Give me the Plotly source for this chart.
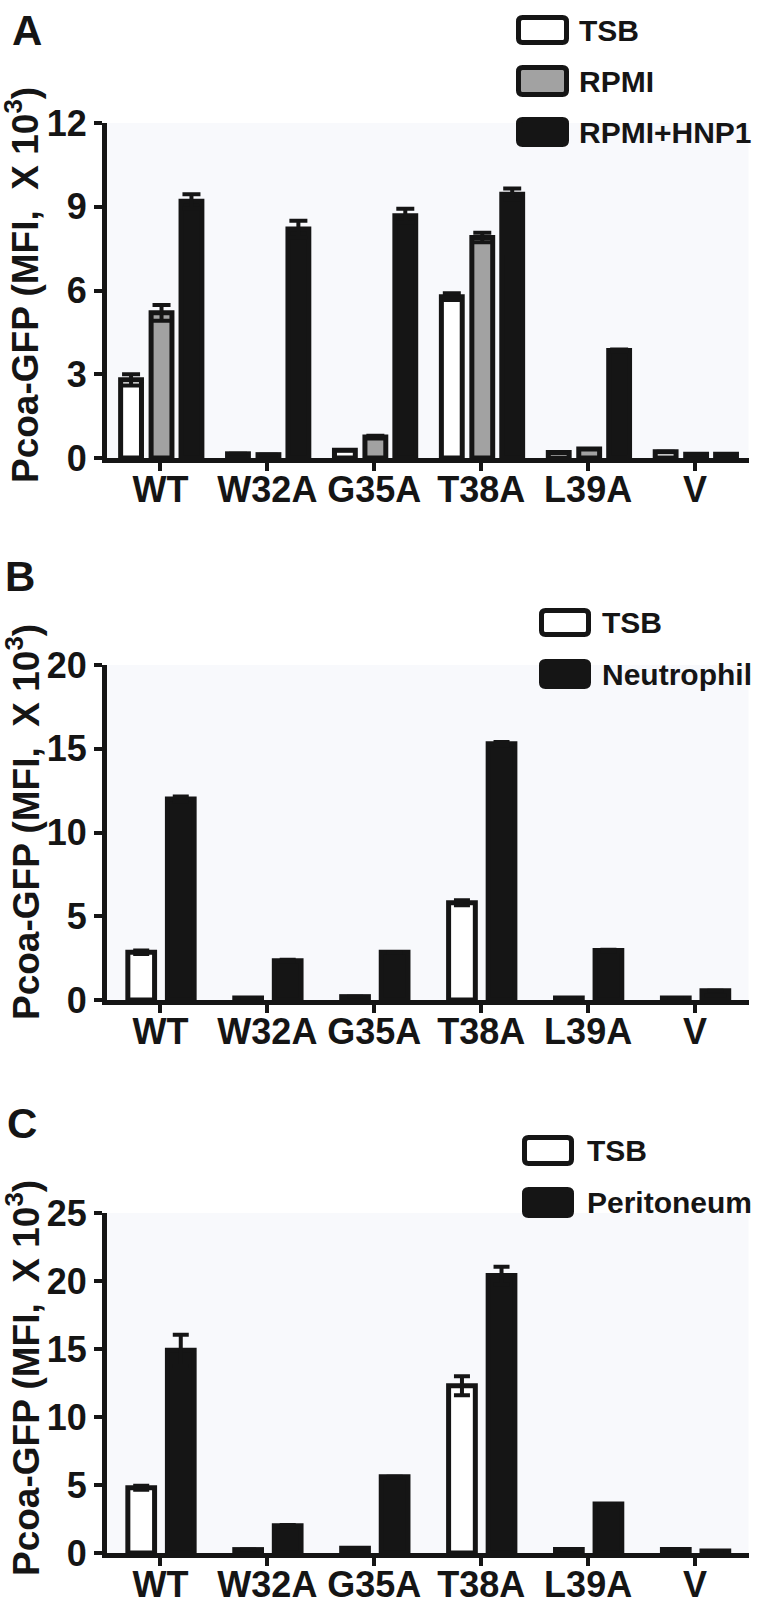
import plotly.graph_objects as go

W, H = 762, 1600

categories = ["WT", "W32A", "G35A", "T38A", "L39A", "V"]

# Panel A  (Pcoa-GFP, MFI x 10^3)
a_labels = ["TSB", "RPMI", "RPMI+HNP1"]
a_tsb = [2.80, 0.15, 0.28, 5.78, 0.20, 0.22]
a_tsb_err = [0.20, 0.0, 0.0, 0.12, 0.0, 0.0]
a_rpmi = [5.20, 0.12, 0.75, 7.90, 0.32, 0.13]
a_rpmi_err = [0.28, 0.0, 0.05, 0.17, 0.0, 0.0]
a_hnp1 = [9.20, 8.20, 8.68, 9.45, 3.85, 0.13]
a_hnp1_err = [0.25, 0.30, 0.25, 0.20, 0.04, 0.0]

# Panel B
b_labels = ["TSB", "Neutrophil"]
b_tsb = [2.85, 0.12, 0.20, 5.80, 0.12, 0.12]
b_tsb_err = [0.10, 0.0, 0.0, 0.15, 0.0, 0.0]
b_neut = [12.0, 2.35, 2.85, 15.30, 2.95, 0.55]
b_neut_err = [0.15, 0.05, 0.0, 0.10, 0.05, 0.0]

# Panel C
c_labels = ["TSB", "Peritoneum"]
c_tsb = [4.80, 0.25, 0.35, 12.30, 0.25, 0.25]
c_tsb_err = [0.15, 0.0, 0.0, 0.70, 0.0, 0.0]
c_peri = [14.90, 2.00, 5.60, 20.40, 3.60, 0.15]
c_peri_err = [1.15, 0.05, 0.0, 0.65, 0.0, 0.0]

BLACK = "#151515"
GRAY = "#a2a2a2"
WHITE = "#ffffff"
FONT = "Liberation Sans, Arial, sans-serif"


def px(x):
    return x / W


def py(y):
    return 1 - y / H


fig = go.Figure()


def add_bars(values, errs, fill, xa, ya, center, width, capw):
    fig.add_trace(go.Bar(
        x=categories, y=values, xaxis=xa, yaxis=ya,
        marker=dict(color=fill, line=dict(color=BLACK, width=5)),
        width=width, offset=center - width / 2,
        error_y=dict(type="data", array=errs, visible=True, color=BLACK,
                     thickness=4, width=capw),
        showlegend=False, hoverinfo="skip"))


# Panel A bars
wa = 0.195
add_bars(a_tsb, a_tsb_err, WHITE, "x", "y", -0.275, wa, 9)
add_bars(a_rpmi, a_rpmi_err, GRAY, "x", "y", 0.01, wa, 9)
add_bars(a_hnp1, a_hnp1_err, BLACK, "x", "y", 0.29, wa, 9)

# Panel B bars
wb = 0.25
add_bars(b_tsb, b_tsb_err, WHITE, "x2", "y2", -0.18, wb, 8)
add_bars(b_neut, b_neut_err, BLACK, "x2", "y2", 0.19, wb, 8)

# Panel C bars
add_bars(c_tsb, c_tsb_err, WHITE, "x3", "y3", -0.18, wb, 8)
add_bars(c_peri, c_peri_err, BLACK, "x3", "y3", 0.19, wb, 8)

tickfont = dict(family=FONT, size=36, color=BLACK, weight="bold")

xdom = [px(107), px(748.5)]
panels = [
    ("", "", (123, 458), 12, 3),
    ("2", "2", (665, 1000), 20, 5),
    ("3", "3", (1213, 1553), 25, 5),
]
layout_axes = {}
for xs, ys, (top, bot), ymax, dt in panels:
    layout_axes["xaxis" + xs] = dict(
        domain=xdom, anchor="y" + ys, type="category",
        categoryorder="array", categoryarray=categories,
        range=[-0.5, 5.5], showline=True, linewidth=5, linecolor=BLACK,
        ticks="outside", ticklen=8, tickwidth=4, tickcolor=BLACK,
        ticklabelstandoff=-12,
        tickfont=tickfont, showgrid=False, zeroline=False,
        automargin=False, fixedrange=True)
    layout_axes["yaxis" + ys] = dict(
        domain=[py(bot), py(top)], anchor="x" + xs,
        range=[0, ymax], tick0=0, dtick=dt,
        showline=True, linewidth=5, linecolor=BLACK,
        ticks="outside", ticklen=8, tickwidth=4, tickcolor=BLACK,
        tickfont=tickfont, showgrid=False, zeroline=False,
        automargin=False, fixedrange=True)

fig.update_layout(
    width=W, height=H,
    margin=dict(l=0, r=0, t=0, b=0),
    paper_bgcolor="white", plot_bgcolor="#f8f9fc",
    barmode="overlay",
    showlegend=False,
    **layout_axes)

annotations = []
shapes = []

# Panel letters
for txt, (cx, cy) in [("A", (27, 30)), ("B", (20, 576)), ("C", (22, 1123))]:
    annotations.append(dict(
        text=txt, x=px(cx), y=py(cy), xref="paper", yref="paper",
        xanchor="center", yanchor="middle", showarrow=False,
        font=dict(family=FONT, size=42, color=BLACK, weight="bold")))

# Y axis titles
ytitle = "Pcoa-GFP (MFI,&nbsp; X 10<sup>3</sup>)"
for cy in [285, 822, 1378]:
    annotations.append(dict(
        text=ytitle, x=px(23), y=py(cy), xref="paper", yref="paper",
        xanchor="center", yanchor="middle", showarrow=False, textangle=-90,
        font=dict(family=FONT, size=37, color=BLACK, weight="bold")))


def rounded_box(x0, y0, x1, y1, r=4):
    X0, X1 = px(x0), px(x1)
    Y0, Y1 = py(y0), py(y1)
    rx, ry = r / W, r / H
    return (f"M {X0 + rx},{Y0} L {X1 - rx},{Y0} Q {X1},{Y0} {X1},{Y0 - ry} "
            f"L {X1},{Y1 + ry} Q {X1},{Y1} {X1 - rx},{Y1} "
            f"L {X0 + rx},{Y1} Q {X0},{Y1} {X0},{Y1 + ry} "
            f"L {X0},{Y0 - ry} Q {X0},{Y0} {X0 + rx},{Y0} Z")


legend_items = [
    # label, fill, box x0, x1, y0, y1, text x
    (a_labels[0], WHITE, 516, 569, 15, 45, 577),
    (a_labels[1], GRAY, 516, 569, 65, 97, 577),
    (a_labels[2], BLACK, 516, 569, 117, 147, 577),
    (b_labels[0], WHITE, 539, 591, 608, 637, 600),
    (b_labels[1], BLACK, 539, 591, 659, 689, 600),
    (c_labels[0], WHITE, 522, 574, 1135, 1166, 585),
    (c_labels[1], BLACK, 522, 574, 1187, 1218, 585),
]
for label, fill, x0, x1, y0, y1, tx in legend_items:
    shapes.append(dict(
        type="path", xref="paper", yref="paper",
        path=rounded_box(x0 + 2.5, y0 + 2.5, x1 - 2.5, y1 - 2.5),
        line=dict(color=BLACK, width=5), fillcolor=fill))
    annotations.append(dict(
        text=label, x=px(tx), y=py((y0 + y1) / 2), xref="paper", yref="paper",
        xanchor="left", yanchor="middle", showarrow=False,
        font=dict(family=FONT, size=30, color=BLACK, weight="bold")))

fig.update_layout(annotations=annotations, shapes=shapes)

fig.write_html(
    "out.html",
    config={"displayModeBar": False},
    post_script="document.body.style.margin='0';document.body.style.overflow='hidden';")
